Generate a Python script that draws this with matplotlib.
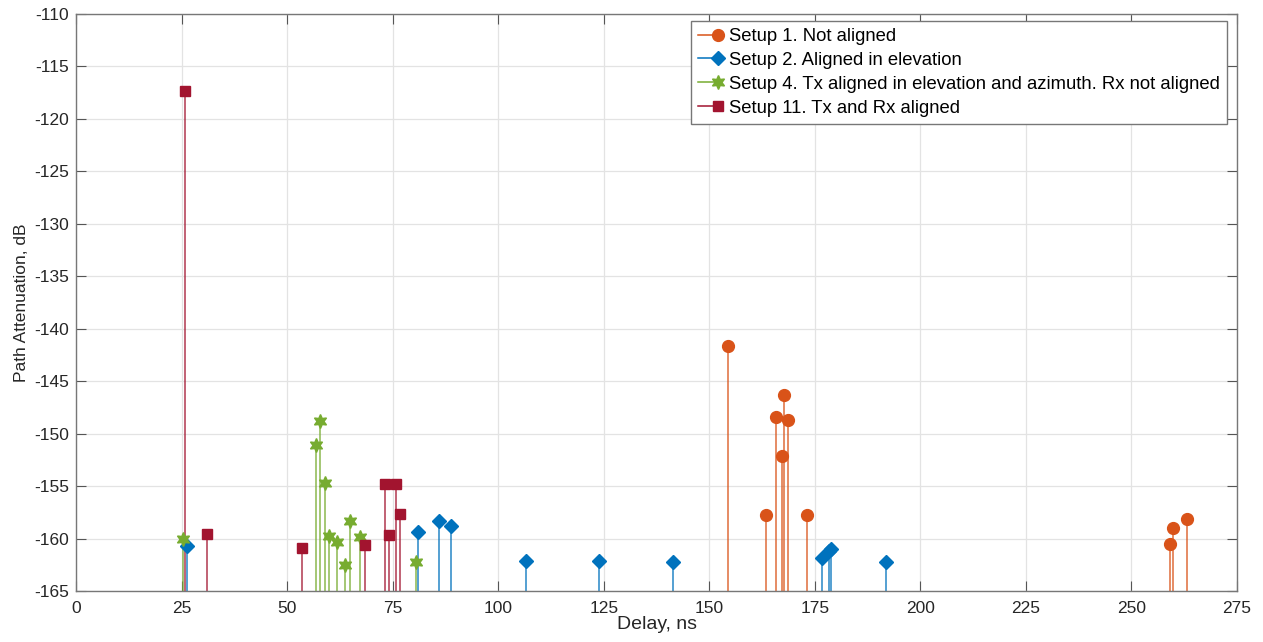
import matplotlib.pyplot as plt
from matplotlib.lines import Line2D
from matplotlib.legend_handler import HandlerLine2D

plt.rcParams['font.family'] = ['Liberation Sans', 'DejaVu Sans']
plt.rcParams['axes.unicode_minus'] = False

# Delay (ns) and path attenuation (dB)
s1_delay = [154.4, 163.5, 165.9, 167.7, 167.2, 168.6, 173.1, 259.3, 259.9, 263.2]
s1_att = [-141.7, -157.8, -148.4, -146.3, -152.1, -148.7, -157.8, -160.5, -159.0, -158.1]

s2_delay = [26.2, 81.05, 85.9, 88.8, 106.6, 123.9, 141.3, 176.8, 178.4, 178.9, 191.8]
s2_att = [-160.7, -159.4, -158.3, -158.8, -162.1, -162.1, -162.2, -161.9, -161.2, -161.0, -162.2]

s4_delay = [25.3, 56.7, 57.7, 58.9, 60.0, 61.7, 63.7, 64.8, 67.2, 80.6]
s4_att = [-160.0, -151.1, -148.8, -154.7, -159.8, -160.3, -162.5, -158.3, -159.9, -162.2]

s11_delay = [25.76, 30.97, 53.4, 73.2, 74.1, 75.8, 76.8, 68.5]
s11_att = [-117.4, -159.6, -160.9, -154.8, -159.7, -154.8, -157.7, -160.6]

series = [
    ('Setup 1. Not aligned', s1_delay, s1_att, '#D95319', 'o', 8.5),
    ('Setup 2. Aligned in elevation', s2_delay, s2_att, '#0072BD', 'D', 7.5),
    ('Setup 4. Tx aligned in elevation and azimuth. Rx not aligned', s4_delay, s4_att, '#77AC30', (6, 1, 0), 10),
    ('Setup 11. Tx and Rx aligned', s11_delay, s11_att, '#A2142F', 's', 7),
]


class StemHandler(HandlerLine2D):
    # matlab-style stem legend: line with the marker at its right end
    def create_artists(self, legend, orig_handle, xdescent, ydescent, width, height, fontsize, trans):
        y = height / 2 - ydescent
        x0, x1 = -xdescent, -xdescent + width
        c = orig_handle.get_color()
        line = Line2D([x0, x1], [y, y], color=c, linewidth=orig_handle.get_linewidth(), transform=trans)
        mk = Line2D([x1], [y], linestyle='none', marker=orig_handle.get_marker(),
                    markersize=orig_handle.get_markersize(), color=c, markeredgecolor=c, transform=trans)
        return [line, mk]


fig = plt.figure(figsize=(12.63, 6.42), dpi=100)
ax = fig.add_axes([0.0604, 0.0794, 0.9188, 0.8992])

handles = []
for label, x, y, color, marker, ms in series:
    ax.vlines(x, -165, y, colors=color, linewidth=1.1, alpha=0.85, zorder=2)
    ax.plot(x, y, linestyle='none', marker=marker, markersize=ms,
            color=color, markeredgecolor=color, zorder=3)
    handles.append(Line2D([0, 1], [0, 0], color=color, marker=marker, markersize=ms,
                          linewidth=1.1, label=label))

ax.set_xlim(0, 275)
ax.set_ylim(-165, -110)
ax.set_xticks(range(0, 276, 25))
ax.set_yticks(range(-165, -109, 5))
ax.grid(True, color='#e3e3e3', linewidth=0.9)
ax.set_axisbelow(True)
ax.tick_params(direction='in', length=7, width=0.8, colors='#555555', labelcolor='#262626',
               labelsize=12.5, top=True, right=True, pad=5)
ax.tick_params(axis='x', pad=7)
for sp in ax.spines.values():
    sp.set_color('#777777')
    sp.set_linewidth(1.0)

ax.set_xlabel('Delay, ns', fontsize=14, color='#262626', labelpad=0)
ax.set_ylabel('Path Attenuation, dB', fontsize=12.5, color='#262626', labelpad=4)

leg = ax.legend(handles=handles, handler_map={Line2D: StemHandler()},
                loc='upper right', bbox_to_anchor=(0.9916, 0.9874),
                handlelength=1.1, handletextpad=0.6, fontsize=13.3,
                labelspacing=0.37, borderpad=0.38, borderaxespad=0,
                fancybox=False, framealpha=1, edgecolor='#777777')
leg.get_frame().set_linewidth(1.0)

fig.savefig('out.png', dpi=100)
